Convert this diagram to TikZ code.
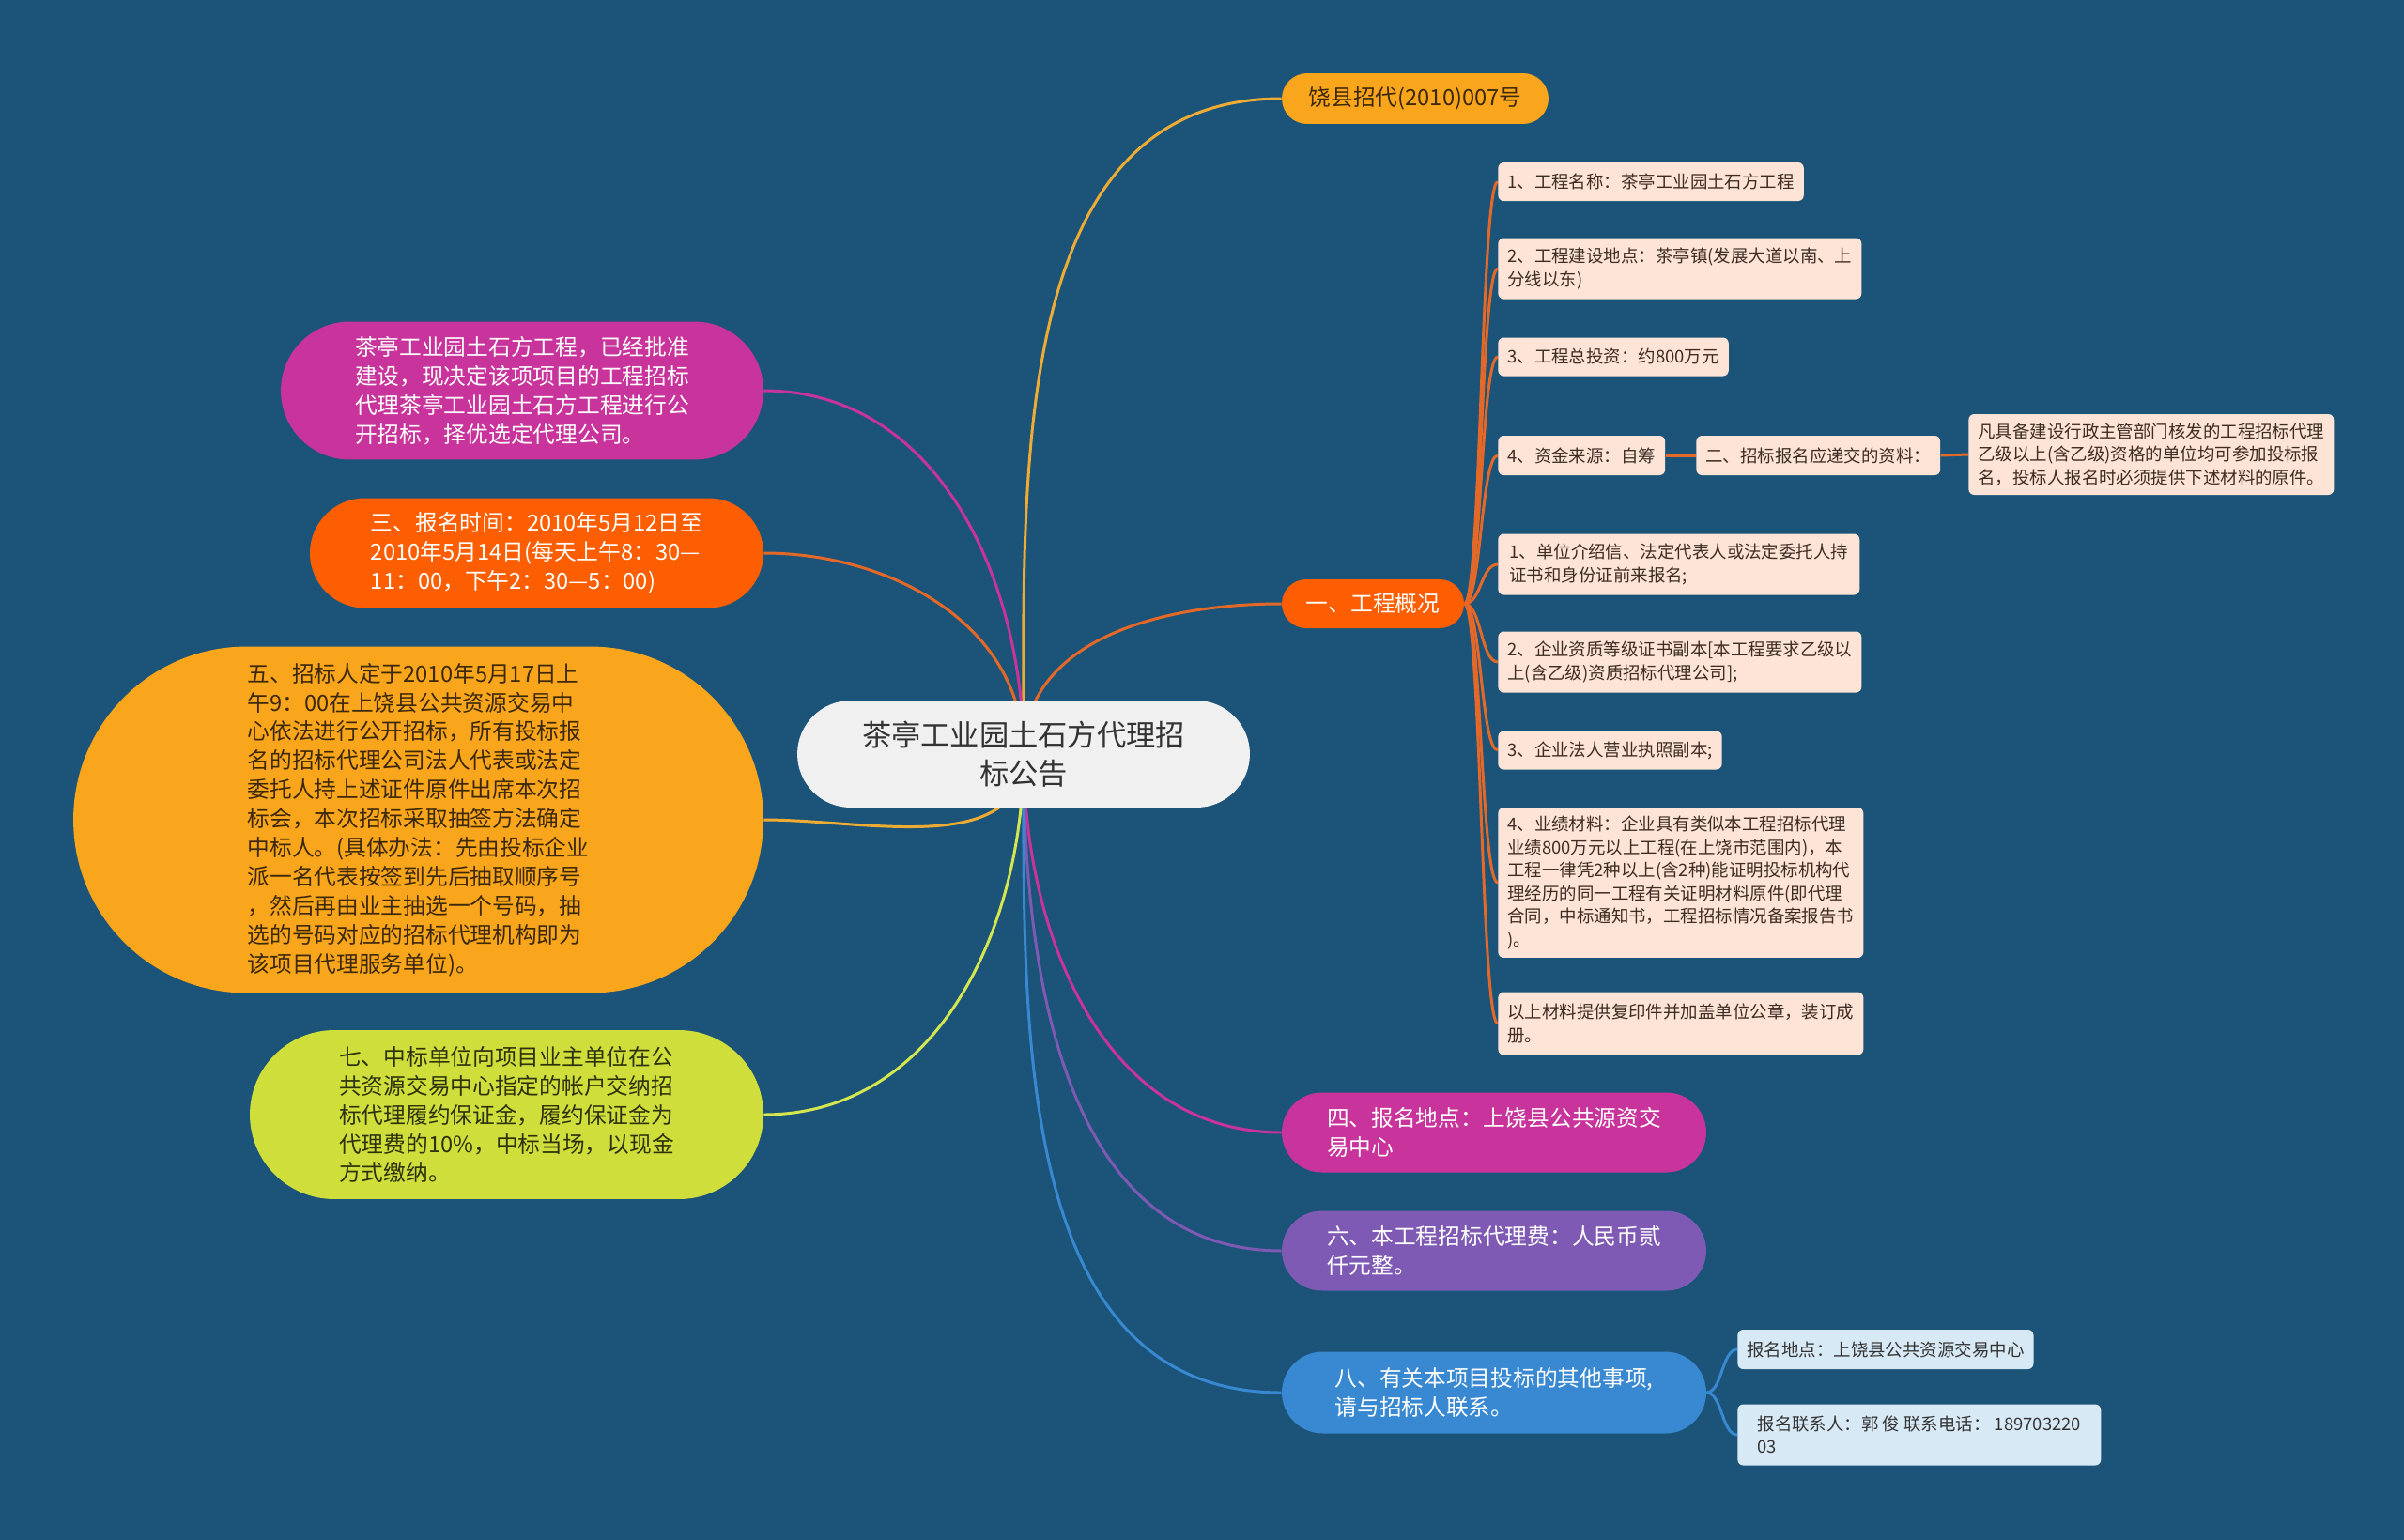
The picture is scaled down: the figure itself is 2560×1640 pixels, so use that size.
\documentclass[tikz,border=0pt]{standalone}
\usepackage{fontspec}
\setmainfont{Noto Sans CJK SC}
\usepackage{tikz}
\pgfdeclarelayer{canvas}
\pgfdeclarelayer{links}
\pgfsetlayers{canvas,links,main}
\definecolor{bgC}{RGB}{27,84,120}
\definecolor{rootC}{RGB}{240,240,240}
\definecolor{textD}{RGB}{51,51,51}
\definecolor{orgY}{RGB}{250,166,28}
\definecolor{orgYT}{RGB}{60,40,10}
\definecolor{orgR}{RGB}{254,94,2}
\definecolor{magC}{RGB}{200,52,155}
\definecolor{purC}{RGB}{126,90,180}
\definecolor{bluC}{RGB}{56,136,210}
\definecolor{limeC}{RGB}{208,222,60}
\definecolor{limeT}{RGB}{45,50,10}
\definecolor{peachC}{RGB}{253,228,214}
\definecolor{peachT}{RGB}{62,45,35}
\definecolor{noteC}{RGB}{216,233,246}
\definecolor{linkR}{RGB}{228,104,40}
\definecolor{linkY}{RGB}{238,172,52}
\definecolor{linkL}{RGB}{212,230,80}
\newcommand\froot{\fontsize{17.8}{23.3}\selectfont}
\newcommand\fbranch{\fontsize{13.5}{17.6}\selectfont}
\newcommand\fleaf{\fontsize{10.5}{14}\selectfont}
\tikzset{
  rootS/.style  ={fill=rootC, text=textD, font=\froot, align=center, inner sep=0pt},
  topicS/.style ={fill=#1, text=white, font=\fbranch, align=left, inner sep=0pt},
  pill/.style 2 args={minimum width=#1, minimum height=#2, rounded corners=0.5*#2},
  leafS/.style  ={fill=peachC, text=peachT, font=\fleaf, align=left, anchor=west,
                  inner xsep=0.2cm, inner ysep=0pt, rounded corners=0.12cm},
  noteS/.style  ={leafS, fill=noteC, text=textD},
  box/.style 2 args={minimum width=#1, minimum height=#2},
  link/.style   ={draw=#1, line width=1.7pt},
}

\begin{document}
\begin{tikzpicture}[x=0.02cm, y=-0.02cm]
  \begin{pgfonlayer}{canvas}
    \fill[bgC] (0,0) rectangle (2560,1640);
  \end{pgfonlayer}
  \node[rootS, pill={9.64cm}{2.28cm}] (root) at (1090,803) {茶亭工业园土石方代理招\\标公告};
  % right side
  \node[topicS=orgY, text=orgYT, pill={5.68cm}{1.08cm}] (docno) at (1507,105) {饶县招代(2010)007号};
  \node[topicS=orgR, pill={3.88cm}{1.04cm}] (overview) at (1462,643) {一、工程概况};
  \node[topicS=magC, pill={9.04cm}{1.70cm}] (place) at (1591,1206) {四、报名地点：上饶县公共源资交\\易中心};
  \node[topicS=purC, pill={9.04cm}{1.70cm}] (fee) at (1591,1332) {六、本工程招标代理费：人民币贰\\仟元整。};
  \node[topicS=bluC, pill={9.04cm}{1.74cm}] (other) at (1591,1483) {八、有关本项目投标的其他事项,\\请与招标人联系。};
  % left side
  \node[topicS=magC, pill={10.28cm}{2.94cm}] (approve) at (556,416) {茶亭工业园土石方工程，已经批准\\建设，现决定该项项目的工程招标\\代理茶亭工业园土石方工程进行公\\开招标，择优选定代理公司。};
  \node[topicS=orgR, pill={9.66cm}{2.34cm}] (regtime) at (571.5,589) {三、报名时间：2010年5月12日至\\2010年5月14日(每天上午8：30—\\11：00，下午2：30—5：00)};
  \node[topicS=orgY, text=orgYT, pill={14.7cm}{7.38cm}] (opening) at (445.5,873) {五、招标人定于2010年5月17日上\\午9：00在上饶县公共资源交易中\\心依法进行公开招标，所有投标报\\名的招标代理公司法人代表或法定\\委托人持上述证件原件出席本次招\\标会，本次招标采取抽签方法确定\\中标人。(具体办法：先由投标企业\\派一名代表按签到先后抽取顺序号\\，然后再由业主抽选一个号码，抽\\选的号码对应的招标代理机构即为\\该项目代理服务单位)。};
  \node[topicS=limeC, text=limeT, pill={10.94cm}{3.6cm}] (bond) at (539.5,1187) {七、中标单位向项目业主单位在公\\共资源交易中心指定的帐户交纳招\\标代理履约保证金，履约保证金为\\代理费的10\%，中标当场，以现金\\方式缴纳。};
  % leaves of overview
  \node[leafS, box={6.46cm}{0.82cm}] (item1) at (1595,193.5) {1、工程名称：茶亭工业园土石方工程};
  \node[leafS, box={7.7cm}{1.3cm}] (item2) at (1595,286) {2、工程建设地点：茶亭镇(发展大道以南、上\\分线以东)};
  \node[leafS, box={4.86cm}{0.82cm}] (item3) at (1595,380) {3、工程总投资：约800万元};
  \node[leafS, box={3.52cm}{0.84cm}] (item4) at (1595,485) {4、资金来源：自筹};
  \node[leafS, box={5.08cm}{0.84cm}] (reqs) at (1806,485) {二、招标报名应递交的资料：};
  \node[leafS, box={7.72cm}{1.72cm}] (qualify) at (2096,484) {凡具备建设行政主管部门核发的工程招标代理\\乙级以上(含乙级)资格的单位均可参加投标报\\名，投标人报名时必须提供下述材料的原件。};
  \node[leafS, box={7.7cm}{1.3cm}] (mat1) at (1595,601) {1、单位介绍信、法定代表人或法定委托人持\\证书和身份证前来报名;};
  \node[leafS, box={7.7cm}{1.3cm}] (mat2) at (1595,705) {2、企业资质等级证书副本[本工程要求乙级以\\上(含乙级)资质招标代理公司];};
  \node[leafS, box={4.7cm}{0.82cm}] (mat3) at (1595,799) {3、企业法人营业执照副本;};
  \node[leafS, box={7.7cm}{3.2cm}] (mat4) at (1595,940) {4、业绩材料：企业具有类似本工程招标代理\\业绩800万元以上工程(在上饶市范围内)，本\\工程一律凭2种以上(含2种)能证明投标机构代\\理经历的同一工程有关证明材料原件(即代理\\合同，中标通知书，工程招标情况备案报告书\\)。};
  \node[leafS, box={7.7cm}{1.34cm}] (bind) at (1595,1090) {以上材料提供复印件并加盖单位公章，装订成\\册。};
  % leaves of other
  \node[noteS, box={6.26cm}{0.84cm}] (cplace) at (1850,1437) {报名地点：上饶县公共资源交易中心};
  \node[noteS, box={7.74cm}{1.3cm}] (cperson) at (1850,1528) {报名联系人：郭 俊 联系电话： 189703220\\03};
  \begin{pgfonlayer}{links}
    \draw[link=linkY] (root.center) to[out=90,in=180] (docno.west);
    \draw[link=linkR] (root.center) to[out=90,in=180] (overview.west);
    \draw[link=magC] (root.center) to[out=-90,in=180] (place.west);
    \draw[link=purC] (root.center) to[out=-90,in=180] (fee.west);
    \draw[link=bluC] (root.center) to[out=-90,in=180] (other.west);
    \draw[link=magC] (root.center) to[out=90,in=0] (approve.east);
    \draw[link=linkR] (root.center) to[out=90,in=0] (regtime.east);
    \draw[link=linkY] (root.center) to[out=-90,in=0] (opening.east);
    \draw[link=linkL] (root.center) to[out=-90,in=0] (bond.east);
    \foreach \n in {item1,item2,item3,item4,mat1,mat2,mat3,mat4,bind}
      \draw[link=linkR] (overview.east) to[out=0,in=180,distance=0.36cm] (\n.west);
    \draw[link=linkR] (item4.east) -- (reqs.west);
    \draw[link=linkR] (reqs.east) -- (qualify.west);
    \foreach \n in {cplace,cperson}
      \draw[link=bluC] (other.east) to[out=0,in=180,distance=0.33cm] (\n.west);
  \end{pgfonlayer}
\end{tikzpicture}
\end{document}
